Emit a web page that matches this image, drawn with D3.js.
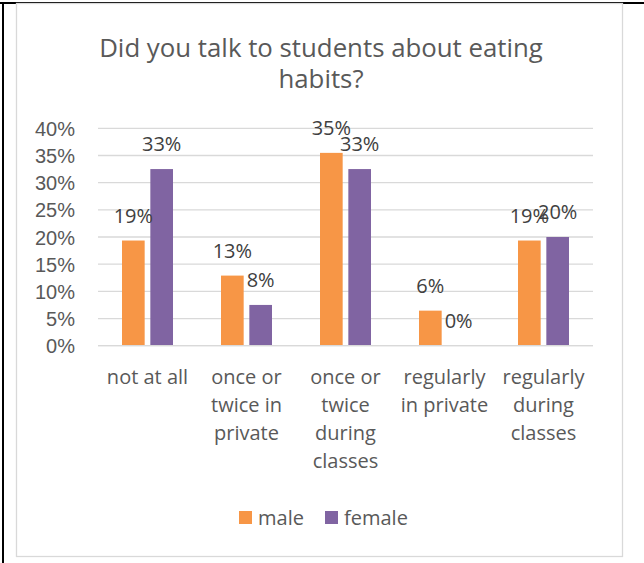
<!DOCTYPE html>
<html><head><meta charset="utf-8">
<script src="https://cdn.jsdelivr.net/npm/d3@7"></script>
<style>
html,body{margin:0;padding:0;background:#fff;}
svg{display:block;font-family:"Open Sans", sans-serif;}
</style></head>
<body><svg id="c" width="644" height="563"></svg>
<script>
const titleLines = ["Did you talk to students about eating", "habits?"];
const categories = ["not at all", "once or twice in private", "once or twice during classes", "regularly in private", "regularly during classes"];
const categoryLines = [["not at all"], ["once or", "twice in", "private"], ["once or", "twice", "during", "classes"], ["regularly", "in private"], ["regularly", "during", "classes"]];
const seriesNames = ["male", "female"];
const maleValues = [0.1935, 0.129, 0.3548, 0.0645, 0.1935];
const femaleValues = [0.325, 0.075, 0.325, 0, 0.20];
const yTicks = [0, 0.05, 0.10, 0.15, 0.20, 0.25, 0.30, 0.35, 0.40];
const colors = {male: "#F79646", female: "#8064A2"};

const svg = d3.select("#c");
// outer black frame lines
svg.append("rect").attr("x", 0).attr("y", 2).attr("width", 644).attr("height", 2).attr("fill", "#000");
svg.append("rect").attr("x", 2).attr("y", 2).attr("width", 2).attr("height", 561).attr("fill", "#000");
// chart border
svg.append("rect").attr("x", 16.5).attr("y", 3.5).attr("width", 606).attr("height", 553)
  .attr("fill", "#fff").attr("stroke", "#d9d9d9").attr("stroke-width", 1.3);

// title
svg.append("g").selectAll("text").data(titleLines).join("text")
  .attr("x", 321).attr("y", (d, i) => 56.5 + i * 31.8)
  .attr("text-anchor", "middle").attr("fill", "#595959")
  .attr("font-size", 25.8).text(d => d);

const x0 = d3.scaleBand().domain(categories).range([98, 593]).paddingInner(0.485).paddingOuter(0.2425);
const x1 = d3.scaleBand().domain(seriesNames).range([0, x0.bandwidth()]).paddingInner(0.2).paddingOuter(0);
const y = d3.scaleLinear().domain([0, 0.4]).range([345.7, 128.3]);

// gridlines
svg.append("g").selectAll("line").data(yTicks).join("line")
  .attr("x1", 98).attr("x2", 593).attr("y1", d => y(d)).attr("y2", d => y(d))
  .attr("stroke", "#d9d9d9").attr("stroke-width", 1.3);

// y axis
const yAxis = d3.axisLeft(y).tickValues(yTicks).tickFormat(d3.format(".0%")).tickSize(0).tickPadding(0);
const ya = svg.append("g").attr("transform", "translate(75,0)").call(yAxis);
ya.select(".domain").remove();
ya.selectAll("text").attr("fill", "#595959").attr("font-size", 20).attr("font-family", null).attr("dy", "0.35em");

const rows = categories.map((c, i) => ({cat: c, vals: [{s: "male", v: maleValues[i]}, {s: "female", v: femaleValues[i]}]}));
const groups = svg.append("g").selectAll("g").data(rows).join("g")
  .attr("transform", d => `translate(${x0(d.cat)},0)`);
groups.selectAll("rect").data(d => d.vals).join("rect")
  .attr("x", d => x1(d.s)).attr("width", x1.bandwidth())
  .attr("y", d => y(d.v)).attr("height", d => y(0) - y(d.v))
  .attr("fill", d => colors[d.s]);
groups.selectAll("text").data(d => d.vals).join("text")
  .attr("x", d => x1(d.s) + x1.bandwidth() / 2).attr("y", d => y(d.v) - 18)
  .attr("text-anchor", "middle").attr("fill", "#404040").attr("font-size", 20)
  .text(d => Math.round(d.v * 100) + "%");

// x axis line
svg.append("line").attr("x1", 98).attr("x2", 593).attr("y1", y(0)).attr("y2", y(0))
  .attr("stroke", "#d9d9d9").attr("stroke-width", 1.3);

// category labels
const xl = svg.append("g").selectAll("text").data(categories).join("text")
  .attr("x", d => x0(d) + x0.bandwidth() / 2).attr("y", 384)
  .attr("text-anchor", "middle").attr("fill", "#595959").attr("font-size", 20);
xl.selectAll("tspan").data((d, i) => categoryLines[i]).join("tspan")
  .attr("x", function() { return this.parentNode.getAttribute("x"); })
  .attr("dy", (d, i) => i === 0 ? 0 : 28).text(d => d);

// legend
const legendX = [239, 325];
const lg = svg.append("g").selectAll("g").data(seriesNames).join("g")
  .attr("transform", (d, i) => `translate(${legendX[i]},511)`);
lg.append("rect").attr("width", 13).attr("height", 13).attr("fill", d => colors[d]);
lg.append("text").attr("x", 19).attr("y", 14).attr("fill", "#595959").attr("font-size", 20).text(d => d);
</script>
</body></html>
